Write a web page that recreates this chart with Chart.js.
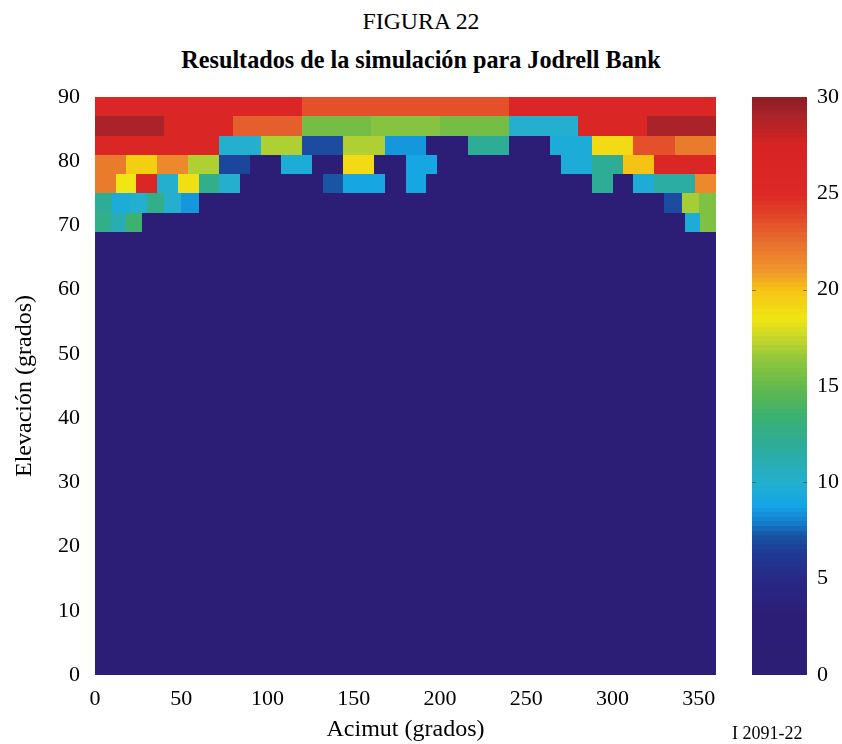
<!DOCTYPE html>
<html>
<head>
<meta charset="utf-8">
<script src="https://cdn.jsdelivr.net/npm/chart.js@4.4.0/dist/chart.umd.min.js"></script>
<style>
  body { margin: 0; background: #fff; width: 842px; height: 744px; overflow: hidden; position: relative; font-family: "Liberation Serif", serif; color: #000; }
  .t { position: absolute; left: 0; width: 842px; text-align: center; line-height: 1.2; white-space: nowrap; }
  #fig { top: 7px; font-size: 23.8px; }
  #ttl { top: 45px; font-size: 24.2px; font-weight: bold; }
  #ref { position: absolute; left: 732px; top: 723px; font-size: 18px; line-height: 1.2; white-space: nowrap; }
  #main { position: absolute; left: 0; top: 0; }
  #cbar { position: absolute; left: 740px; top: 0; }
</style>
</head>
<body>
<div class="t" id="fig">FIGURA 22</div>
<div class="t" id="ttl">Resultados de la simulación para Jodrell Bank</div>
<canvas id="main" width="740" height="744"></canvas>
<canvas id="cbar" width="102" height="744"></canvas>
<div id="ref">I 2091-22</div>
<script>
// sky cells: 3 degree elevation bands, azimuth step grows towards zenith
const rowBottom = [87, 84, 81, 78, 75, 72, 69];
const rowStep = [120, 40, 24, 18, 12, 10, 9];
const rowHeight = 3;

const row87 = [26, 23.5, 26];
const row84 = [29, 26, 23, 15.5, 16, 15.5, 10, 26, 29];
const row81 = [26, 26, 26, 10, 17, 7, 17, 8.5, 2.5, 12, 2.5, 9.5, 19, 23.5, 22];
const row78 = [22, 19.5, 21.5, 17, 6.8, 2.5, 9.5, 2.5, 19, 2.5, 9, 2.5, 2.5, 2.5, 2.5, 9.5, 12, 20, 26, 26];
const row75 = [22, 18.5, 26, 10, 18.8, 12.5, 10, 2.5, 2.5, 2.5, 2.5, 7.3, 9, 9, 2.5,
               9, 2.5, 2.5, 2.5, 2.5, 2.5, 2.5, 2.5, 2.5, 12, 2.5, 9.5, 11.5, 11.5, 21.5];
const row72 = [12, 9.5, 10, 12.5, 10, 8.5,
               2.5, 2.5, 2.5, 2.5, 2.5, 2.5, 2.5, 2.5, 2.5, 2.5, 2.5, 2.5, 2.5, 2.5, 2.5, 2.5, 2.5, 2.5,
               2.5, 2.5, 2.5, 2.5, 2.5, 2.5, 2.5, 2.5, 2.5, 7, 16.8, 15.8];
const row69 = [12.5, 11, 13.5,
               2.5, 2.5, 2.5, 2.5, 2.5, 2.5, 2.5, 2.5, 2.5, 2.5, 2.5, 2.5, 2.5, 2.5, 2.5, 2.5, 2.5, 2.5,
               2.5, 2.5, 2.5, 2.5, 2.5, 2.5, 2.5, 2.5, 2.5, 2.5, 2.5, 2.5, 2.5, 2.5, 2.5, 2.5, 2.5,
               9.5, 15.8];
const rowValues = [row87, row84, row81, row78, row75, row72, row69];

// everything below 69 degrees
const lowTop = 69;
const lowValue = 2.5;

const xTicks = [0, 50, 100, 150, 200, 250, 300, 350];
const yTicks = [0, 10, 20, 30, 40, 50, 60, 70, 80, 90];
const cTicks = [0, 5, 10, 15, 20, 25, 30];

// colour map
const cmapStops = [0, 3, 5, 6.5, 7.3, 7.8, 8.8, 10, 12, 13.5, 15, 16.5, 17.5, 18.5, 20, 21, 22.5, 24, 25, 27.5, 29, 30];
const cmapColors = [
  [44, 29, 117], [44, 29, 118], [40, 40, 135], [30, 60, 150], [25, 85, 165], [20, 120, 200],
  [20, 165, 230], [35, 175, 205], [45, 172, 150], [60, 178, 110], [100, 185, 75], [150, 200, 60],
  [200, 215, 40], [240, 230, 20], [245, 195, 20], [240, 150, 45], [230, 110, 45], [225, 65, 40],
  [220, 40, 38], [215, 35, 35], [170, 35, 40], [140, 30, 35]
];

function colorFor(v) {
  let c = cmapColors[cmapColors.length - 1];
  if (v <= cmapStops[0]) c = cmapColors[0];
  for (let i = 1; i < cmapStops.length; i++) {
    if (v <= cmapStops[i]) {
      const t = (v - cmapStops[i - 1]) / (cmapStops[i] - cmapStops[i - 1]);
      const a = cmapColors[i - 1], b = cmapColors[i];
      c = [0, 1, 2].map(k => Math.round(a[k] + (b[k] - a[k]) * t));
      break;
    }
  }
  return 'rgb(' + c.join(',') + ')';
}

const serif = "'Liberation Serif', 'Times New Roman', serif";

function fillCell(ctx, x, y, az0, az1, el0, el1, v) {
  const l = Math.round(x.getPixelForValue(az0));
  const r = Math.round(x.getPixelForValue(az1));
  const t = Math.round(y.getPixelForValue(el1));
  const b = Math.round(y.getPixelForValue(el0));
  ctx.fillStyle = colorFor(v);
  ctx.fillRect(l, t, r - l, b - t);
}

const skyCells = {
  id: 'skyCells',
  beforeDatasetsDraw(chart) {
    const { ctx, scales: { x, y } } = chart;
    ctx.save();
    fillCell(ctx, x, y, 0, 360, 0, lowTop, lowValue);
    rowBottom.forEach((el, r) => {
      rowValues[r].forEach((v, i) => {
        fillCell(ctx, x, y, i * rowStep[r], (i + 1) * rowStep[r], el, el + rowHeight, v);
      });
    });
    ctx.restore();
  }
};

const colorBar = {
  id: 'colorBar',
  beforeDatasetsDraw(chart) {
    const { ctx, chartArea, scales: { y } } = chart;
    const n = 128;
    ctx.save();
    for (let k = 0; k < n; k++) {
      const v0 = k * 30 / n, v1 = (k + 1) * 30 / n;
      const t = Math.round(y.getPixelForValue(v1));
      const b = Math.round(y.getPixelForValue(v0));
      ctx.fillStyle = colorFor((v0 + v1) / 2);
      ctx.fillRect(chartArea.left, t, chartArea.right - chartArea.left, b - t);
    }
    // small tick marks on both edges, as on the printed bar
    ctx.strokeStyle = 'rgba(60,60,60,0.6)';
    ctx.lineWidth = 1;
    [10, 20].forEach(v => {
      const py = Math.round(y.getPixelForValue(v)) + 0.5;
      ctx.beginPath();
      ctx.moveTo(chartArea.left, py); ctx.lineTo(chartArea.left + 4, py);
      ctx.moveTo(chartArea.right - 4, py); ctx.lineTo(chartArea.right, py);
      ctx.stroke();
    });
    ctx.restore();
  }
};

new Chart(document.getElementById('main'), {
  type: 'scatter',
  data: { datasets: [{ data: [] }] },
  options: {
    responsive: false,
    animation: false,
    devicePixelRatio: 1,
    layout: { padding: { top: 97, right: 24, bottom: 0, left: 0 } },
    plugins: { legend: { display: false }, tooltip: { enabled: false } },
    scales: {
      x: {
        type: 'linear', min: 0, max: 360,
        grid: { display: false, drawTicks: false },
        border: { display: false },
        afterBuildTicks: s => { s.ticks = xTicks.map(v => ({ value: v })); },
        afterFit: s => { s.height = 69; },
        ticks: { padding: 11, color: '#000', maxRotation: 0, autoSkip: false, font: { family: serif, size: 22 } },
        title: { display: true, text: 'Acimut (grados)', color: '#000', font: { family: serif, size: 24 }, padding: { top: 0, bottom: 0 } }
      },
      y: {
        type: 'linear', min: 0, max: 90,
        grid: { display: false, drawTicks: false },
        border: { display: false },
        afterBuildTicks: s => { s.ticks = yTicks.map(v => ({ value: v })); },
        afterFit: s => { s.width = 95; },
        ticks: { padding: 15, color: '#000', autoSkip: false, font: { family: serif, size: 22 } },
        title: { display: true, text: 'Elevación (grados)', color: '#000', font: { family: serif, size: 24 }, padding: { top: 10, bottom: 0 } }
      }
    }
  },
  plugins: [skyCells]
});

new Chart(document.getElementById('cbar'), {
  type: 'scatter',
  data: { datasets: [{ data: [] }] },
  options: {
    responsive: false,
    animation: false,
    devicePixelRatio: 1,
    layout: { padding: { top: 97, right: 0, bottom: 69, left: 12 } },
    plugins: { legend: { display: false }, tooltip: { enabled: false } },
    scales: {
      x: { type: 'linear', min: 0, max: 1, display: false },
      y: {
        type: 'linear', position: 'right', min: 0, max: 30,
        grid: { display: false, drawTicks: false },
        border: { display: false },
        afterBuildTicks: s => { s.ticks = cTicks.map(v => ({ value: v })); },
        afterFit: s => { s.width = 35; },
        ticks: { padding: 10, color: '#000', autoSkip: false, font: { family: serif, size: 22 } }
      }
    }
  },
  plugins: [colorBar]
});
</script>
</body>
</html>
